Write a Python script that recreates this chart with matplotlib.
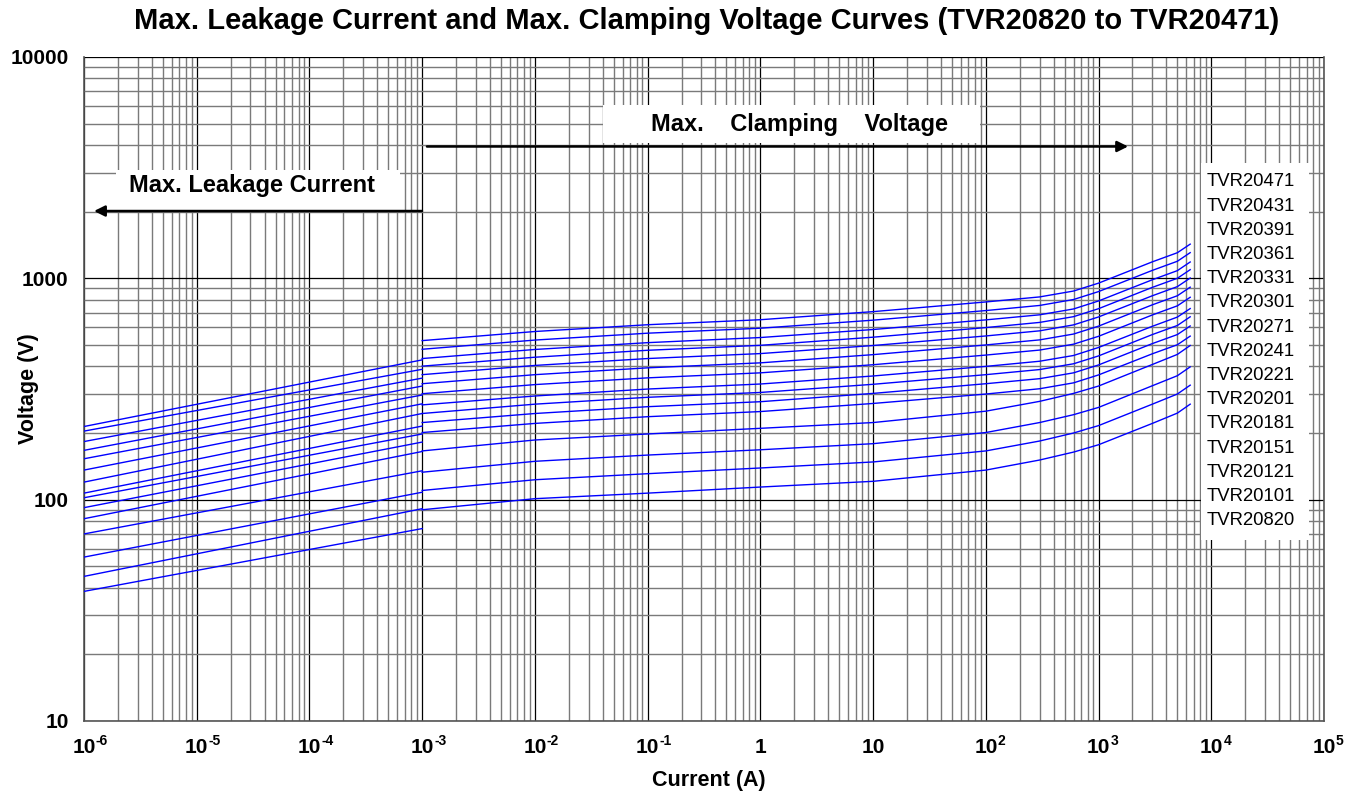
import matplotlib
matplotlib.use("Agg")
import matplotlib.pyplot as plt
from matplotlib.ticker import LogLocator, FixedLocator, FixedFormatter, NullFormatter
from matplotlib.patches import Rectangle

plt.rcParams['font.family'] = ['Liberation Sans', 'DejaVu Sans']
plt.rcParams['font.weight'] = 'bold'

# varistor models, top curve first
models = ["TVR20471", "TVR20431", "TVR20391", "TVR20361", "TVR20331",
          "TVR20301", "TVR20271", "TVR20241", "TVR20221", "TVR20201",
          "TVR20181", "TVR20151", "TVR20121", "TVR20101", "TVR20820"]

# max leakage current region (straight lines, 1uA .. 1mA)
leak_i = [1e-6, 1e-3]
leak_v = [
    [214, 428], [204, 388], [183, 354], [167, 326], [153, 297],
    [136, 271], [120, 245], [107, 215], [102, 198], [92, 182],
    [82, 165], [70, 135], [55, 108], [45, 91], [38.5, 74],
]

# max clamping voltage region (1mA .. 6500A)
clamp_i = [1e-3, 1e-2, 0.1, 1, 10, 100, 300, 600, 1000, 3000, 5000, 6500]
clamp_v = [
    [523, 575, 617, 650, 707, 782, 824, 876, 951, 1187, 1305, 1427],
    [478, 526, 565, 595, 647, 715, 754, 802, 871, 1086, 1194, 1306],
    [434, 477, 512, 540, 587, 649, 684, 727, 790, 985, 1083, 1185],
    [401, 440, 473, 498, 542, 599, 632, 671, 729, 910, 1000, 1094],
    [367, 404, 434, 457, 497, 549, 579, 616, 669, 834, 917, 1003],
    [334, 367, 394, 415, 452, 500, 527, 560, 608, 759, 834, 912],
    [301, 331, 355, 374, 407, 450, 474, 504, 547, 683, 751, 821],
    [268, 294, 316, 333, 362, 400, 422, 448, 487, 607, 668, 730],
    [245, 270, 290, 305, 332, 367, 387, 411, 446, 557, 612, 670],
    [223, 245, 263, 277, 302, 334, 352, 374, 406, 507, 557, 609],
    [201, 221, 237, 250, 272, 300, 317, 337, 366, 456, 501, 548],
    [166, 186, 198, 210, 223, 251, 278, 302, 326, 408, 453, 497],
    [133, 149, 159, 168, 179, 201, 223, 242, 261, 327, 363, 398],
    [110, 123, 131, 139, 148, 166, 184, 200, 216, 270, 300, 329],
    [90, 101, 107, 114, 121, 136, 151, 164, 177, 221, 246, 270],
]

x_ticks = [1e-6, 1e-5, 1e-4, 1e-3, 1e-2, 1e-1, 1, 10, 1e2, 1e3, 1e4, 1e5]
x_base = ['10', '10', '10', '10', '10', '10', '1', '10', '10', '10', '10', '10']
x_exp = ['-6', '-5', '-4', '-3', '-2', '-1', '', '', '2', '3', '4', '5']
y_ticks = [10, 100, 1000, 10000]
y_labels = ['10', '100', '1000', '10000']

fig = plt.figure(figsize=(13.48, 7.97), dpi=100)
ax = fig.add_axes([0.0623, 0.0954, 0.9199, 0.8331])
ax.set_xscale('log')
ax.set_yscale('log')
ax.set_xlim(1e-6, 1e5)
ax.set_ylim(10, 10000)

for lv in leak_v:
    ax.plot(leak_i, lv, color='#0000ff', lw=1.0, zorder=3)
for cv in clamp_v:
    ax.plot(clamp_i, cv, color='#0000ff', lw=1.0, zorder=3)

ax.xaxis.set_major_locator(FixedLocator(x_ticks))
ax.xaxis.set_major_formatter(FixedFormatter(x_base))
ax.xaxis.set_minor_locator(LogLocator(base=10, subs=range(2, 10), numticks=100))
ax.xaxis.set_minor_formatter(NullFormatter())
ax.yaxis.set_major_locator(FixedLocator(y_ticks))
ax.yaxis.set_major_formatter(FixedFormatter(y_labels))
ax.yaxis.set_minor_locator(LogLocator(base=10, subs=range(2, 10), numticks=100))
ax.yaxis.set_minor_formatter(NullFormatter())

ax.set_axisbelow(True)
ax.grid(which='minor', color='#7a7a7a', lw=1.0)
ax.grid(which='major', color='black', lw=0.9)
ax.tick_params(which='both', length=0)
ax.tick_params(axis='x', labelsize=15, pad=12)
ax.tick_params(axis='y', labelsize=15, pad=11)
for lab in ax.get_xticklabels() + ax.get_yticklabels():
    lab.set_fontweight('bold')

# small exponents next to the "10" labels
for xt, ex in zip(x_ticks, x_exp):
    if ex:
        ax.annotate(ex, xy=(xt, 0), xycoords=('data', 'axes fraction'),
                    xytext=(12, -27), textcoords='offset pixels',
                    ha='left', va='bottom', fontsize=10, fontweight='bold',
                    annotation_clip=False)

ax.spines['top'].set_visible(False)
for s in ['left', 'bottom', 'right']:
    ax.spines[s].set_color('#555555')
    ax.spines[s].set_linewidth(1.2)

# label column on the right
ax.add_patch(Rectangle((0.9008, 0.2726), 0.0871, 0.5678, transform=ax.transAxes,
                       facecolor='white', edgecolor='none', zorder=2))
for k, name in enumerate(models):
    ax.text(0.9055, 0.812 - k * 0.03645, name, transform=ax.transAxes,
            fontsize=13.3, fontweight='normal', va='center', ha='left', zorder=4)

# annotation boxes and arrows
ax.add_patch(Rectangle((0.0258, 0.7696), 0.229, 0.0602, transform=ax.transAxes,
                       facecolor='white', edgecolor='none', zorder=2))
ax.text(0.1355, 0.8057, 'Max. Leakage Current', transform=ax.transAxes,
        fontsize=17, fontweight='bold', ha='center', va='center', zorder=4)
ax.annotate('', xy=(0.0081, 0.768), xytext=(0.2726, 0.768), xycoords='axes fraction',
            arrowprops=dict(arrowstyle='-|>', color='black', lw=1.8, mutation_scale=16,
                            shrinkA=0, shrinkB=0), zorder=5)

ax.add_patch(Rectangle((0.4186, 0.8705), 0.304, 0.0572, transform=ax.transAxes,
                       facecolor='white', edgecolor='none', zorder=2))
ax.text(0.577, 0.899, 'Max.    Clamping    Voltage', transform=ax.transAxes,
        fontsize=17, fontweight='bold', ha='center', va='center', zorder=4)
ax.annotate('', xy=(0.842, 0.8652), xytext=(0.2766, 0.8652), xycoords='axes fraction',
            arrowprops=dict(arrowstyle='-|>', color='black', lw=1.8, mutation_scale=16,
                            shrinkA=0, shrinkB=0), zorder=5)

fig.text(0.5245, 0.974, 'Max. Leakage Current and Max. Clamping Voltage Curves (TVR20820 to TVR20471)',
         fontsize=21, fontweight='bold', ha='center', va='center')
fig.text(0.526, 0.021, 'Current (A)', fontsize=15.5, fontweight='bold', ha='center', va='center')
fig.text(0.021, 0.512, 'Voltage (V)', fontsize=15.5, fontweight='bold', ha='center', va='center',
         rotation=90)

fig.savefig('out.png', dpi=100)
